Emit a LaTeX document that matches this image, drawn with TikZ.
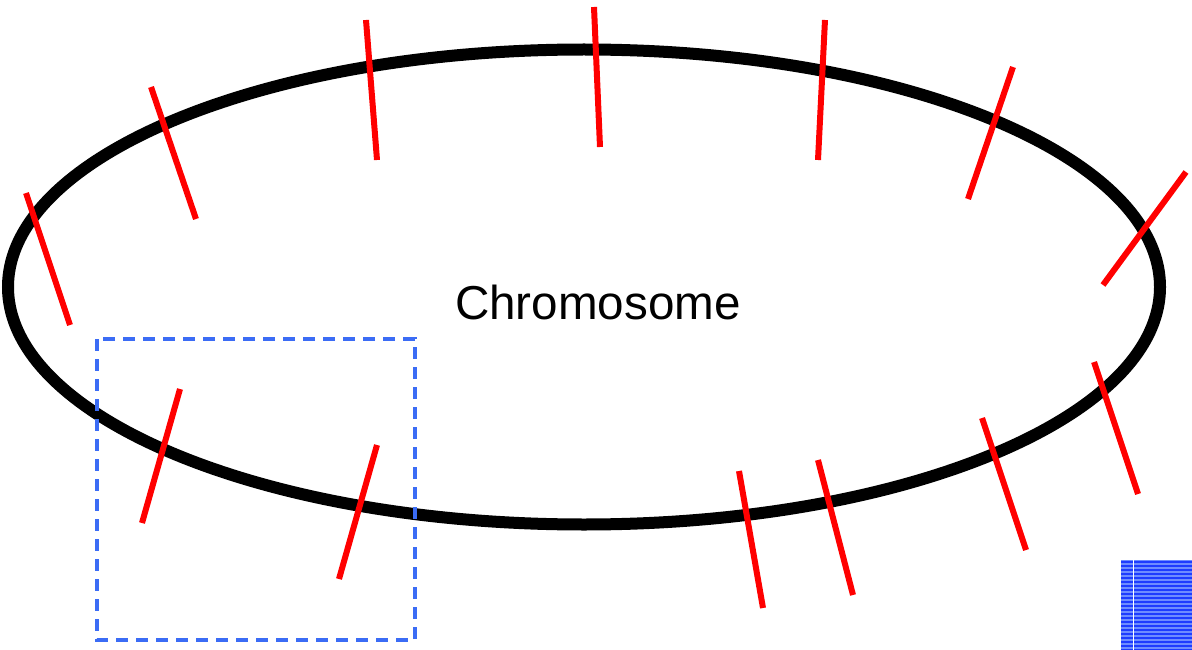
\documentclass[tikz,border=0pt]{standalone}
\usepackage{fontspec}
\setmainfont{Liberation Sans}
\usepackage{tikz}
\usetikzlibrary{shapes.geometric}
\definecolor{CRed}{RGB}{255,0,0}
\definecolor{CBlue}{RGB}{59,108,245}
\definecolor{PBlue}{RGB}{30,60,255}
\definecolor{PLight}{RGB}{110,140,255}

\begin{document}
\begin{tikzpicture}[x=1pt,y=-1pt,
    site/.style={draw=CRed,line width=6pt},
    zoombox/.style={draw=CBlue,line width=4pt,dash pattern=on 12pt off 8pt}]
  \useasboundingbox (0,0) rectangle (1192,650);
  % chromosome ring
  \node[
    ellipse,
    draw=black,
    line width=12pt,
    minimum width=1152pt,
    minimum height=475pt,
    inner sep=0pt
  ] (chrom) at (584,287) {};
  \node[font=\fontsize{47.6}{57}\selectfont] (label) at (598,302) {Chromosome};
  % cut sites
  \foreach \xa/\ya/\xb/\yb in {26/193/70/325, 151/87/196/219, 366/20/377/160,
      594/7/600/147, 825/20/818/160, 1013/67/968/199, 1186/172/1103/285,
      1094/362/1138/494, 982/418/1026/550, 818/460/853/595, 739/471/763/608,
      180/389/142/523, 377/445/339/579}
    \draw[site] (\xa,\ya) -- (\xb,\yb);
  % zoom region
  \draw[zoombox] (97,339) rectangle (415,640);
  % striped patch
  \fill[PLight] (1121,560) rectangle (1192,650);
  \foreach \k in {0,...,22}
    \fill[PBlue] (1121,561+4*\k) rectangle (1192,563+4*\k);
  \draw[white,line width=1pt] (1133,560) -- (1133,650);
\end{tikzpicture}
\end{document}
